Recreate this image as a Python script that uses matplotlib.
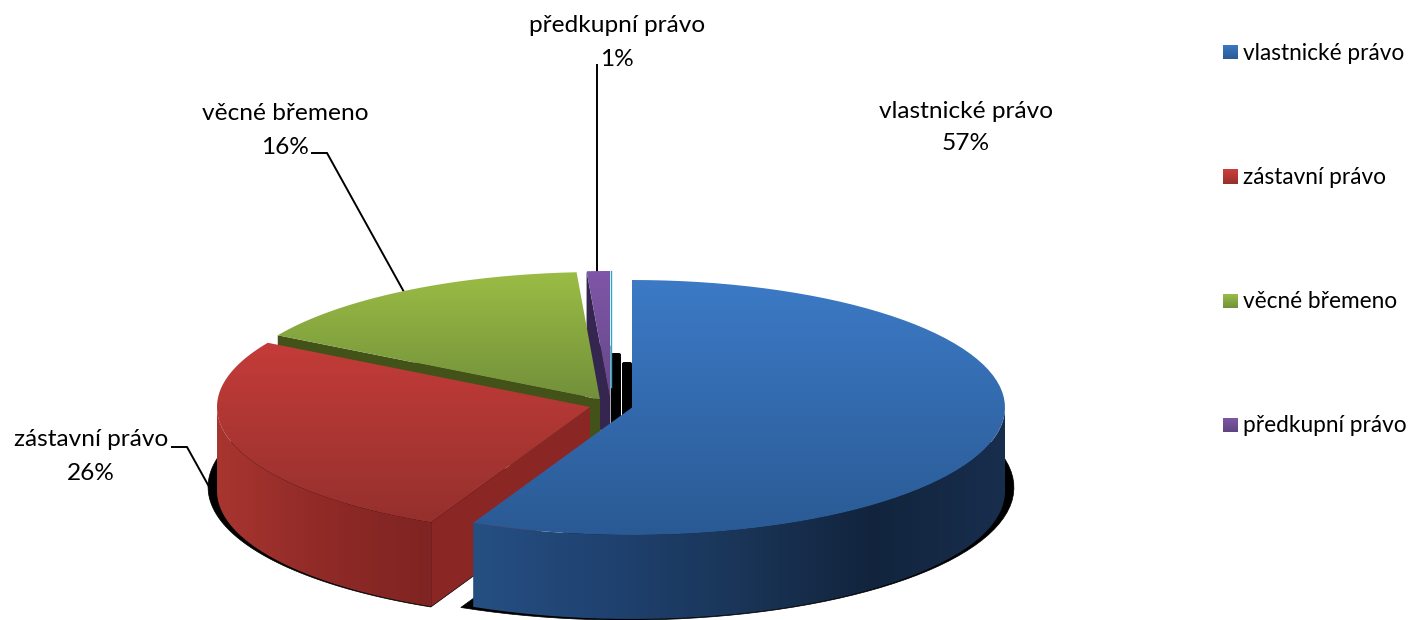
import numpy as np
import matplotlib
matplotlib.use("Agg")
import matplotlib.pyplot as plt
from matplotlib.colors import LinearSegmentedColormap
from matplotlib.patches import FancyBboxPatch, PathPatch, Polygon
from matplotlib.path import Path

plt.rcParams["font.family"] = ["Lato", "DejaVu Sans"]

# -----------------------------------------------------------------------------
# Data
# -----------------------------------------------------------------------------
CATEGORIES = ["vlastnické právo", "zástavní právo", "věcné břemeno", "předkupní právo"]
SHARES = [57.0, 26.4, 15.6, 1.0]

# -----------------------------------------------------------------------------
# Look (all in image pixels)
# -----------------------------------------------------------------------------
W, H = 1411, 620
RX, RY = 373, 127.5
DEPTH = 84
CENTRES = [(632, 407.5), (590, 407), (600, 399.5), (610, 398.5)]
SHADOW_DX = [-6, 6, 0, 0]
SHADOW_PAD = [4, 0, 0, 0]

TOP_COLOURS = [("#3c7ac6", "#2a5a94"), ("#c43c39", "#95302d"),
               ("#9bbd45", "#72903a"), ("#7f56a8", "#664888")]
RIM_COLOURS = [["#264f82", "#1f4270", "#1a3558", "#12243d", "#182e4d"],
               ["#a8352f", "#8f2a27", "#7f2422"],
               ["#46551e", "#46551e"],
               ["#34264f", "#34264f"]]
FACE_COLOURS = ["#1e3f6a", "#8a2725", "#435219", "#34264f"]
LEGEND_COLOURS = [("#3c7ac6", "#2a5a94"), ("#cf3f3b", "#95302d"),
                  ("#9dc04a", "#72903a"), ("#8059aa", "#5f4480")]

FONT_SIZE = 17.6
LEGEND_FONT_SIZE = 16.3
LABELS = [(966, 111, 144), (91, 440, 473), (285, 114, 147), (617, 26, 59)]
LEADERS = [None,
           [(172, 447), (187, 447), (232, 528)],
           [(312, 153), (327, 153), (404, 292)],
           [(597, 65), (597, 272)]]


def rim(cx, cy, t0, t1, rx=RX, ry=RY, n=80):
    # t is measured clockwise from the top of the ellipse
    t = np.radians(np.linspace(t0, t1, n))
    return np.column_stack([cx + rx * np.sin(t), cy - ry * np.cos(t)])


def gradient_fill(ax, verts, colours, box, vertical=True, zorder=2):
    cmap = LinearSegmentedColormap.from_list("g", colours)
    ramp = np.linspace(0, 1, 256)
    ramp = ramp[:, None] if vertical else ramp[None, :]
    x0, x1, y0, y1 = box
    im = ax.imshow(ramp, cmap=cmap, extent=(x0, x1, y1, y0), origin="upper",
                   aspect="auto", zorder=zorder, interpolation="bilinear")
    clip = PathPatch(Path(verts), transform=ax.transData, fc="none", ec="none")
    ax.add_patch(clip)
    im.set_clip_path(clip)


def draw_slice(ax, i, t0, t1, zorder):
    cx, cy = CENTRES[i]
    top = rim(cx, cy, t0, t1)
    wedge = np.vstack([[cx, cy], top, [cx, cy]])
    drop = np.array([0, DEPTH])

    # radial wall on the leading edge, outer wall below it, top surface last
    start = top[0]
    wall = [(cx, cy), start, start + drop, (cx, cy + DEPTH)]
    ax.add_patch(Polygon(wall, fc=FACE_COLOURS[i], ec="none", zorder=zorder))

    a, b = max(t0, 90), min(t1, 270)
    if a < b:
        front = rim(cx, cy, a, b)
        side = np.vstack([front, (front + drop)[::-1]])
        gradient_fill(ax, side, RIM_COLOURS[i],
                      (side[:, 0].min(), side[:, 0].max(), 0, H),
                      vertical=False, zorder=zorder)
    gradient_fill(ax, wedge, TOP_COLOURS[i],
                  (wedge[:, 0].min(), wedge[:, 0].max(), wedge[:, 1].min(), wedge[:, 1].max()),
                  zorder=zorder)


def draw_shadow(ax, i, t0, t1):
    cx, cy = CENTRES[i]
    cx += SHADOW_DX[i]
    cy += DEPTH - 4
    edge = rim(cx, cy, t0 + SHADOW_PAD[i], t1, RX * 1.04, RY * 1.04)
    ax.add_patch(Polygon(np.vstack([[cx, cy], edge]), fc="black", ec="black",
                         lw=0.5, zorder=1))


fig = plt.figure(figsize=(W / 100, H / 100), dpi=100)
ax = fig.add_axes([0, 0, 1, 1])

edges = 360 * np.cumsum([0] + SHARES) / sum(SHARES)

for i in range(len(SHARES)):
    draw_shadow(ax, i, edges[i], edges[i + 1])

# black slivers of shadow showing through the gaps behind the blue slice
for x0, y0, x1, y1 in [(611, 353, 621, 440), (622, 362, 632, 440)]:
    ax.add_patch(FancyBboxPatch((x0 + 2, y0 + 2), x1 - x0 - 4, y1 - y0 - 4,
                                boxstyle="round,pad=2", fc="black", ec="none", zorder=1))

# leaders run behind the pie
for pts in LEADERS:
    if pts:
        xs, ys = zip(*pts)
        ax.plot(xs, ys, color="black", lw=1.4, zorder=1.5, solid_joinstyle="miter")

# back to front: purple, green, red, blue
for z, i in enumerate([3, 2, 1, 0]):
    draw_slice(ax, i, edges[i], edges[i + 1], zorder=2 + z)

# thin cyan edge on the small slice
cx, cy = CENTRES[3]
ax.plot([cx + 0.5, cx + 0.5], [cy - RY, cy - 12], color="#2ba6d0", lw=1, zorder=3)

for i, name in enumerate(CATEGORIES):
    x, y1, y2 = LABELS[i]
    ax.text(x, y1, name, ha="center", va="center", fontsize=FONT_SIZE, color="black")
    ax.text(x, y2, f"{SHARES[i]:.0f}%", ha="center", va="center", fontsize=FONT_SIZE, color="black")

    # legend
    ly = 52 + 124.3 * i
    box = [(1223, ly - 7), (1237.5, ly - 7), (1237.5, ly + 7.5), (1223, ly + 7.5)]
    gradient_fill(ax, box, LEGEND_COLOURS[i], (1223, 1237.5, ly - 7, ly + 7.5), zorder=3)
    ax.text(1243, ly + 1, name, ha="left", va="center", fontsize=LEGEND_FONT_SIZE, color="black")

ax.set_xlim(0, W)
ax.set_ylim(H, 0)
ax.axis("off")

fig.savefig("out.png", dpi=100, facecolor="white")
